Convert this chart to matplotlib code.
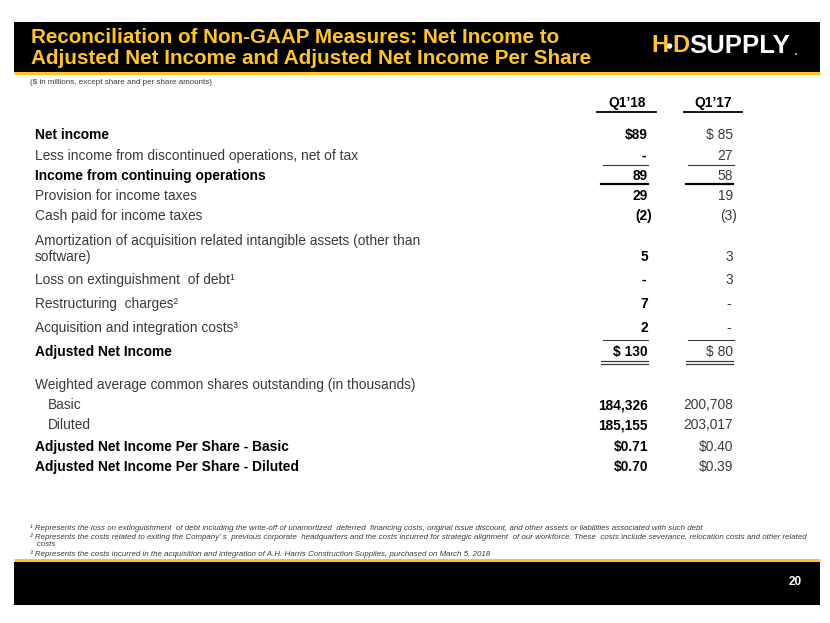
import matplotlib
matplotlib.use("Agg")
import matplotlib.pyplot as plt
from matplotlib.patches import Rectangle, Circle

# --- table content ---
col_headers = ["Q1\u201918", "Q1\u201917"]
row_labels = [
    "Net income",
    "Less income from discontinued operations, net of tax",
    "Income from continuing operations",
    "Provision for income taxes",
    "Cash paid for income taxes",
    "Amortization of acquisition related intangible assets (other than\nsoftware)",
    "Loss on extinguishment  of debt\u00b9",
    "Restructuring  charges\u00b2",
    "Acquisition and integration costs\u00b3",
    "Adjusted Net Income",
    "Weighted average common shares outstanding (in thousands)",
    "Basic",
    "Diluted",
    "Adjusted Net Income Per Share - Basic",
    "Adjusted Net Income Per Share - Diluted",
]
row_bold = [True, False, True, False, False, False, False, False, False,
            True, False, False, False, True, True]
q118 = ["$89", "-", "89", "29", "(2)", "5", "-", "7", "2", "$ 130",
        "", "184,326", "185,155", "$0.71", "$0.70"]
q117 = ["$ 85", "27", "58", "19", "(3)", "3", "3", "-", "-", "$ 80",
        "", "200,708", "203,017", "$0.40", "$0.39"]

title = ("Reconciliation of Non-GAAP Measures: Net Income to\n"
         "Adjusted Net Income and Adjusted Net Income Per Share")
subtitle = "($ in millions, except share and per share amounts)"
footnotes = [
    "\u00b9 Represents the loss on extinguishment  of debt including the write-off of unamortized  deferred  financing costs, original issue discount, and other assets or liabilities associated with such debt",
    "\u00b2 Represents the costs related to exiting the Company\u2019 s  previous corporate  headquarters and the costs incurred for strategic alignment  of our workforce. These  costs include severance, relocation costs and other related\n   costs",
    "\u00b3 Represents the costs incurred in the acquisition and integration of A.H. Harris Construction Supplies, purchased on March 5, 2018",
]
page_no = "20"

# --- layout (pixel coordinates, y downwards) ---
row_y = [135, 156, 176, 196, 216, 249, 280, 304, 328, 352, 385, 405, 425, 447, 467]
label_x = 35
indent_rows = {11, 12}
col_right = [648, 733]
col_center = [627, 713]
YELLOW = "#FFC425"
GREY = "#3a3a3a"
FS = 9.9

plt.rcParams["font.family"] = ["Liberation Sans", "DejaVu Sans"]

fig = plt.figure(figsize=(8.3, 6.23), dpi=100)
ax = fig.add_axes([0, 0, 1, 1])
ax.set_xlim(0, 830)
ax.set_ylim(623, 0)
ax.axis("off")

# header banner
ax.add_patch(Rectangle((14, 22), 806, 50, color="black", lw=0))
ax.plot([14, 820], [73, 73], color=YELLOW, lw=2.2, solid_capstyle="butt")
ax.text(31, 48, title, color=YELLOW, fontsize=14.9, fontweight="bold",
        va="center", ha="left", linespacing=1.12)

# logo
ax.text(651, 46, "H", color=YELLOW, fontsize=17, fontweight="bold",
        va="center", ha="left")
ax.add_patch(Circle((669.5, 46), 2.8, color="white", lw=0))
ax.text(672.5, 46, "D", color=YELLOW, fontsize=17, fontweight="bold",
        va="center", ha="left")
ax.text(689, 46, "SUPPLY", color="white", fontsize=18.5, fontweight="bold",
        va="center", ha="left")
ax.add_patch(Circle((796, 54), 0.9, color="white", lw=0))

ax.text(30, 83, subtitle, color=GREY, fontsize=5.8, va="center", ha="left")

# column headers
for xc, h in zip(col_center, col_headers):
    ax.text(xc, 103, h, fontsize=FS, fontweight="bold", color="black",
            ha="center", va="center")
ax.plot([597, 656], [112, 112], color="black", lw=1.3)
ax.plot([684, 742], [112, 112], color="black", lw=1.3)

# rows
for i, lab in enumerate(row_labels):
    y = row_y[i]
    x = 48 if i in indent_rows else label_x
    bold = row_bold[i]
    ax.text(x, y, lab, fontsize=FS, fontweight="bold" if bold else "normal",
            color="black" if bold else GREY, ha="left", va="center",
            linespacing=1.2)
    yv = y + 8 if "\n" in lab else y
    for k, (vals, xr) in enumerate(zip([q118, q117], col_right)):
        v = vals[i]
        if not v:
            continue
        off = 4 if v.startswith("(") else 0
        if v == "-":
            off = -2
        ax.text(xr + off, yv, v, fontsize=FS,
                fontweight="bold" if k == 0 else "normal",
                color="black" if k == 0 else GREY, ha="right", va="center")

# rules under the numbers
for x0, x1 in [(603, 648), (688, 734)]:
    ax.plot([x0, x1], [165, 165], color=GREY, lw=0.8)
    ax.plot([x0, x1], [340, 340], color=GREY, lw=0.8)
for x0, x1 in [(601, 648), (686, 733)]:
    ax.plot([x0, x1], [184, 184], color="black", lw=1.6)
    ax.plot([x0, x1], [361, 361], color=GREY, lw=0.9)
    ax.plot([x0, x1], [363.5, 363.5], color=GREY, lw=0.9)

# footnotes
fy = [527, 536, 553]
for y, t in zip(fy, footnotes):
    ax.text(30, y - 3, t, fontsize=5.7, style="italic", color=GREY,
            ha="left", va="top", linespacing=1.12)

# footer bar
ax.plot([14, 820], [560, 560], color=YELLOW, lw=2.2, solid_capstyle="butt")
ax.add_patch(Rectangle((14, 561.5), 806, 43, color="black", lw=0))
ax.text(802, 582, page_no, color="white", fontsize=8.5, fontweight="bold",
        ha="right", va="center")

fig.savefig("out.png", dpi=100)
